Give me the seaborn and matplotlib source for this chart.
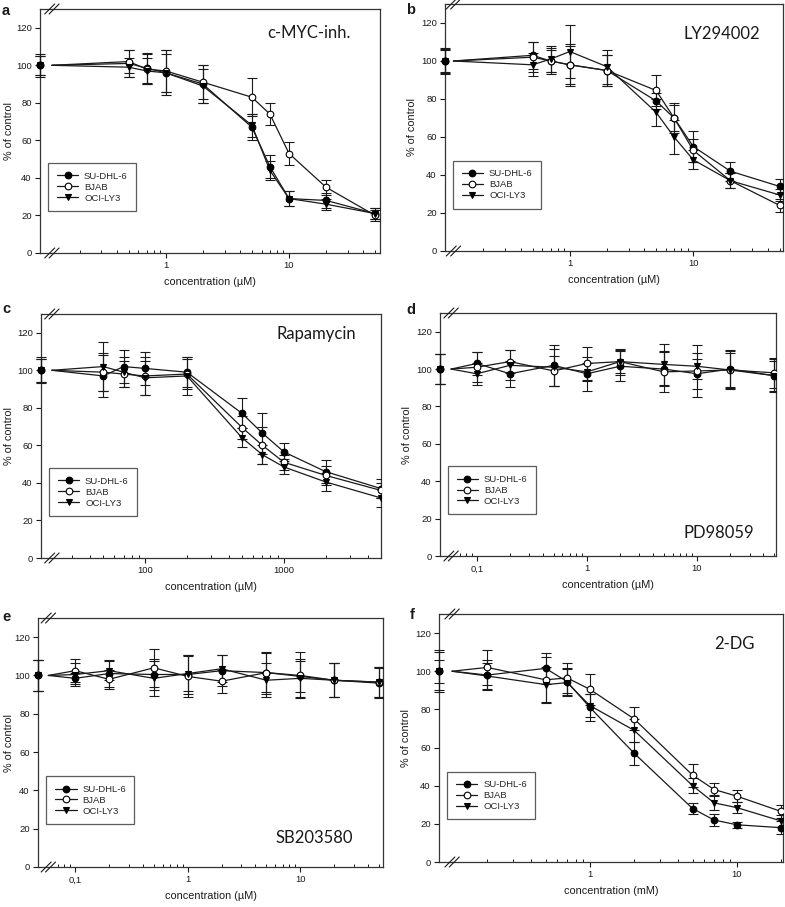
import numpy as np
import pandas as pd
import matplotlib
matplotlib.use('Agg')
import matplotlib.pyplot as plt
from matplotlib.lines import Line2D
import seaborn as sns

sns.set_style('white')
plt.rcParams['font.family'] = ['Liberation Sans', 'DejaVu Sans']

cell_lines = ['SU-DHL-6', 'BJAB', 'OCI-LY3']
control_value = 100

# a: c-MYC inhibitor (uM)
a_conc = [0.5, 0.7, 1, 2, 5, 7, 10, 20, 50]
a_sudhl6 = [101, 98.5, 96, 90, 67, 46, 29, 28, 21]
a_sudhl6_err = [7, 8, 12, 10, 7, 6, 4, 4, 3]
a_bjab = [102, 98, 97, 91, 83, 74, 53, 35, 20]
a_bjab_err = [6, 8, 11, 9, 10, 6, 6, 4, 3]
a_ocily3 = [99, 97, 96, 89, 68, 44, 29, 26, 21]
a_ocily3_err = [5, 7, 10, 9, 6, 5, 4, 3, 3]
a_ctrl_err = [6, 5, 5]

# b: LY294002 (uM)
b_conc = [0.5, 0.7, 1, 2, 5, 7, 10, 20, 50]
b_sudhl6 = [103, 100, 98, 95, 79, 70, 55, 42, 34]
b_sudhl6_err = [7, 7, 11, 8, 4, 7, 8, 5, 4]
b_bjab = [102, 100, 98, 95, 84.5, 70, 53, 37, 24]
b_bjab_err = [8, 6, 10, 8, 8, 8, 6, 4, 3.5]
b_ocily3 = [98, 101, 105, 97, 73, 60, 48, 37, 29.5]
b_ocily3_err = [6, 7, 14, 9, 7, 9, 5, 4, 3]
b_ctrl_err = [7, 6, 6.5]

# c: Rapamycin (uM)
c_conc = [50, 70, 100, 200, 500, 700, 1000, 2000, 5000]
c_sudhl6 = [97, 102, 101, 99, 77, 66.5, 56.5, 46, 37]
c_sudhl6_err = [11, 9, 9, 8, 8, 11, 5, 6, 5]
c_bjab = [99, 98, 97, 98, 69.5, 60, 51, 44, 36]
c_bjab_err = [10, 7, 10, 8, 6, 10, 4, 5, 4]
c_ocily3 = [102, 99, 96, 97, 64, 55, 48.5, 40.5, 32]
c_ocily3_err = [13, 8, 9, 10, 5, 5, 4, 5, 5]
c_ctrl_err = [7, 6, 6]

# d: PD98059 (uM)
d_conc = [0.1, 0.2, 0.5, 1, 2, 5, 10, 20, 50]
d_sudhl6 = [103, 97.5, 102, 97.5, 101.5, 100, 97.5, 100, 96.5]
d_sudhl6_err = [6, 7, 11, 9, 8, 9, 8, 10, 8]
d_bjab = [101, 104, 99, 103, 104, 98.5, 99, 99.5, 98]
d_bjab_err = [8, 6, 8, 9, 7, 11, 14, 9, 8]
d_ocily3 = [97.5, 102, 101, 98.5, 104, 102.5, 101.5, 99.5, 96.5]
d_ocily3_err = [6, 8, 10, 5, 6, 11, 7, 10, 9]
d_ctrl_err = [8, 8, 8]

# e: SB203580 (uM)
e_conc = [0.1, 0.2, 0.5, 1, 2, 5, 10, 20, 50]
e_sudhl6 = [98.5, 101, 100.5, 100.5, 102.5, 101.5, 99.5, 97.5, 96]
e_sudhl6_err = [3, 7, 8, 10, 8, 10, 8, 9, 8]
e_bjab = [102.5, 98, 104, 99.5, 97, 101.5, 100, 97.5, 96.5]
e_bjab_err = [6, 5, 10, 11, 6, 11, 12, 9, 8]
e_ocily3 = [100.5, 102.5, 98.5, 101, 103.5, 97.5, 98.5, 97.5, 96.5]
e_ocily3_err = [6, 5, 9, 9, 7, 9, 10, 9, 8]
e_ctrl_err = [8, 8, 8]

# f: 2-DG (mM)
f_conc = [0.2, 0.5, 0.7, 1, 2, 5, 7, 10, 20]
f_sudhl6 = [98, 101.5, 94.5, 81, 57, 28, 22, 19.5, 18]
f_sudhl6_err = [8, 8, 7, 7, 6, 3, 3, 1.5, 3.5]
f_bjab = [102, 95.5, 96.5, 90.5, 75, 45.5, 38, 34.5, 26.5]
f_bjab_err = [9, 12, 8, 8, 6, 6, 3.5, 3, 3.5]
f_ocily3 = [97.5, 93, 94, 82, 69, 40, 31, 28.5, 21.5]
f_ocily3_err = [7, 9, 7, 6, 6, 4, 4, 3, 3]
f_ctrl_err = [11, 10, 6]

titles = ['c-MYC-inh.', 'LY294002', 'Rapamycin', 'PD98059', 'SB203580', '2-DG']
letters = ['a', 'b', 'c', 'd', 'e', 'f']
xlabels = ['concentration (\u00b5M)'] * 5 + ['concentration (mM)']
major_ticks = [[1, 10], [1, 10], [100, 1000], [0.1, 1, 10], [0.1, 1, 10], [1, 10]]
major_labels = [['1', '10'], ['1', '10'], ['100', '1000'],
                ['0,1', '1', '10'], ['0,1', '1', '10'], ['1', '10']]

panels = [
    (a_conc, [a_sudhl6, a_bjab, a_ocily3], [a_sudhl6_err, a_bjab_err, a_ocily3_err], a_ctrl_err),
    (b_conc, [b_sudhl6, b_bjab, b_ocily3], [b_sudhl6_err, b_bjab_err, b_ocily3_err], b_ctrl_err),
    (c_conc, [c_sudhl6, c_bjab, c_ocily3], [c_sudhl6_err, c_bjab_err, c_ocily3_err], c_ctrl_err),
    (d_conc, [d_sudhl6, d_bjab, d_ocily3], [d_sudhl6_err, d_bjab_err, d_ocily3_err], d_ctrl_err),
    (e_conc, [e_sudhl6, e_bjab, e_ocily3], [e_sudhl6_err, e_bjab_err, e_ocily3_err], e_ctrl_err),
    (f_conc, [f_sudhl6, f_bjab, f_ocily3], [f_sudhl6_err, f_bjab_err, f_ocily3_err], f_ctrl_err),
]

# layout (pixels: left, top, right, bottom), x limits, break position, title position
boxes = [(40, 9, 380, 253), (445, 4, 783, 251), (41, 314, 381, 558),
         (440, 313, 776, 556), (38, 618, 383, 867), (439, 614, 783, 862)]
xlims = [(0.0955, 54.7), (0.0977, 53.3), (17.8, 5000),
         (0.0463, 52.2), (0.0468, 54.3), (0.094, 20.6)]
breaks = [0.035, 0.025, 0.032, 0.033, 0.03, 0.038]
title_pos = [(0.79, 0.90), (0.82, 0.88), (0.81, 0.92), (0.83, 0.095), (0.80, 0.116), (0.86, 0.88)]
letter_pos = [(2, 11), (406, 10), (2, 309), (406, 310), (2, 617), (410, 615)]

styles = [dict(marker='o', mfc='black', mec='black'),
          dict(marker='o', mfc='white', mec='black'),
          dict(marker='v', mfc='black', mec='black')]
ink = '#1a1a1a'

W, H = 785, 907
fig = plt.figure(figsize=(W / 100, H / 100), dpi=100)

for k, (conc, means, errs, ctrl_err) in enumerate(panels):
    l, t, r, b = boxes[k]
    ax = fig.add_axes([l / W, 1 - b / H, (r - l) / W, (b - t) / H])
    ax.set_xscale('log')
    x0, x1 = xlims[k]
    ax.set_xlim(x0, x1)
    ax.set_ylim(0, 130)
    lx0, lx1 = np.log10(x0), np.log10(x1)
    x_brk = 10 ** (lx0 + breaks[k] * (lx1 - lx0))

    for i in range(3):
        df = pd.DataFrame({'conc': [x_brk] + list(conc),
                           'pct': [control_value] + list(means[i])})
        sns.lineplot(data=df, x='conc', y='pct', ax=ax, color=ink, lw=0.9,
                     sort=False, zorder=2)
        ax.errorbar(conc, means[i], yerr=errs[i], fmt='none', ecolor=ink,
                    elinewidth=0.8, capsize=3.5, capthick=0.8, zorder=3)
        ax.plot(conc, means[i], ls='none', ms=4.8, mew=0.8, zorder=4, **styles[i])

    # untreated control sits on the left spine
    for i in [2, 1, 0]:
        eb = ax.errorbar([x0], [control_value], yerr=[ctrl_err[i]], fmt='none',
                         ecolor=ink, elinewidth=0.8, capsize=3.5, capthick=0.8, zorder=5)
        for art in eb.get_children():
            art.set_clip_on(False)
        m, = ax.plot([x0], [control_value], ls='none', ms=4.8, mew=0.8, zorder=6, **styles[i])
        m.set_clip_on(False)

    # ticks
    ax.set_yticks(np.arange(0, 121, 20))
    ax.set_xticks(major_ticks[k])
    ax.set_xticklabels(major_labels[k])
    minors = [m * 10.0 ** d for d in range(-2, 4) for m in range(2, 10)]
    minors = [v for v in minors if x_brk * 1.15 < v < x1]
    ax.set_xticks(minors, minor=True)
    ax.tick_params(axis='both', which='major', labelsize=6.8, length=3.5, width=0.8,
                   direction='out', colors=ink, left=True, bottom=True, pad=2.5)
    ax.tick_params(axis='x', which='minor', length=2.5, width=0.7, direction='in',
                   colors=ink, bottom=True)
    for s in ax.spines.values():
        s.set_color('#333333')
        s.set_linewidth(0.9)

    ax.set_xlabel(xlabels[k], fontsize=7.8, color=ink, labelpad=5)
    ax.set_ylabel('% of control', fontsize=7.8, color=ink)
    ylab_px = max(l - 28, 14)
    ax.yaxis.set_label_coords((ylab_px - l) / (r - l), 0.5)

    # axis break marks
    pw, ph = (r - l), (b - t)
    for yb in [0, 1]:
        for off in [-2.2, 2.2]:
            cx = breaks[k] + off / pw
            ax.plot([cx - 5 / pw, cx + 5 / pw], [yb - 5 / ph, yb + 5 / ph],
                    transform=ax.transAxes, color=ink, lw=0.8, clip_on=False, zorder=7)

    handles = [Line2D([], [], color=ink, lw=0.9, ms=4.8, mew=0.8, **styles[i]) for i in range(3)]
    leg = ax.legend(handles, cell_lines, loc='lower left', bbox_to_anchor=(0.024, 0.172),
                    fontsize=6.8, frameon=True, fancybox=False, handlelength=2.3,
                    handletextpad=0.6, labelspacing=0.2, borderpad=0.9, borderaxespad=0)
    leg.get_frame().set_edgecolor('#333333')
    leg.get_frame().set_linewidth(0.9)

    ax.text(title_pos[k][0], title_pos[k][1], titles[k], transform=ax.transAxes,
            ha='center', va='center', fontsize=12, family=['Lato', 'DejaVu Sans'], color=ink)

    fig.text(letter_pos[k][0] / W, 1 - letter_pos[k][1] / H, letters[k],
             fontsize=10.5, fontweight='bold', ha='left', va='center', color=ink)

fig.savefig('out.png', dpi=100)
